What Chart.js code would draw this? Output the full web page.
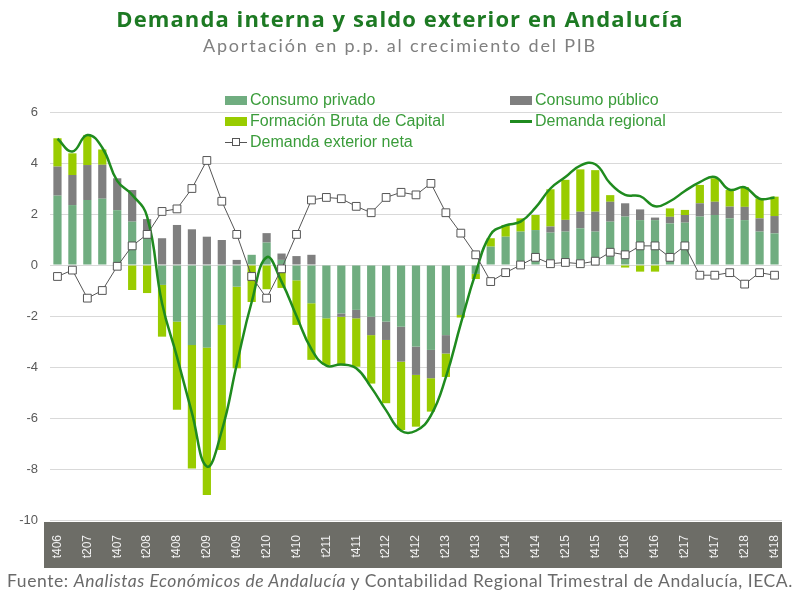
<!DOCTYPE html>
<html>
<head>
<meta charset="utf-8">
<script src="https://cdn.jsdelivr.net/npm/chart.js@4.4.1/dist/chart.umd.min.js"></script>
<style>
  body { margin: 0; background: #fff; }
  #wrap { position: relative; width: 800px; height: 597px; overflow: hidden; }
  #c { position: absolute; left: 0; top: 0; }
  .titulo { position: absolute; left: 0; width: 800px; text-align: center; white-space: nowrap; }
  #legend { position: absolute; left: 0; top: 0; font: 16px "Liberation Sans", Arial, sans-serif; color: #3a9c3a; }
  .item { position: absolute; white-space: nowrap; height: 20px; line-height: 20px; }
  .sw { position: absolute; left: 0; }
  .item span.txt { position: absolute; left: 25px; top: 0; }
</style>
</head>
<body>
<div id="wrap">
  <canvas id="c" width="800" height="597"></canvas>
  <div class="titulo" style="top:3px; font: bold 22px 'Open Sans', sans-serif; letter-spacing:1.1px; color:#1d7a23;">Demanda interna y saldo exterior en Andalucía</div>
  <div class="titulo" style="top:34px; font: 18px Lato, sans-serif; letter-spacing:1.8px; color:#808080;">Aportación en p.p. al crecimiento del PIB</div>
  <div class="titulo" style="top:570px; font: 17.5px Lato, sans-serif; letter-spacing:0.55px; color:#6a6a6a;">Fuente: <i>Analistas Económicos de Andalucía</i> y Contabilidad Regional Trimestral de Andalucía, IECA.</div>
  <div id="legend"></div>
</div>
<script>
// trimestres (t + trimestre + año)
const quarters = ["t406","t107","t207","t307","t407","t108","t208","t308","t408","t109",
  "t209","t309","t409","t110","t210","t310","t410","t111","t211","t311",
  "t411","t112","t212","t312","t412","t113","t213","t313","t413","t114",
  "t214","t314","t414","t115","t215","t315","t415","t116","t216","t316",
  "t416","t117","t217","t317","t417","t118","t218","t318","t418"];

const consumoPrivado = [2.72, 2.35, 2.55, 2.6, 2.15, 1.7, 1.15, -0.78, -2.22, -3.14,
  -3.24, -2.35, -0.85, 0.4, 0.88, 0.2, -0.6, -1.5, -2.09, -1.9,
  -1.76, -2.03, -2.22, -2.42, -3.2, -3.33, -2.75, -1.96, -0.35, 0.72,
  1.11, 1.31, 1.37, 1.27, 1.31, 1.44, 1.31, 1.7, 1.9, 1.76,
  1.76, 1.63, 1.66, 1.9, 1.96, 1.83, 1.76, 1.31, 1.24];

const consumoPublico = [1.14, 1.18, 1.37, 1.33, 1.25, 1.24, 0.65, 1.05, 1.57, 1.4,
  1.11, 0.98, 0.2, 0, 0.37, 0.25, 0.35, 0.4, 0, -0.13,
  -0.33, -0.72, -0.72, -1.37, -1.11, -1.11, -0.72, 0, 0, 0,
  0, 0, 0, 0.24, 0.46, 0.65, 0.78, 0.78, 0.52, 0.42,
  0.1, 0.26, 0.3, 0.52, 0.52, 0.46, 0.52, 0.52, 0.68];

const formacionCapital = [1.11, 0.85, 1.18, 0.6, 0, -0.98, -1.1, -2.03, -3.46, -4.84,
  -5.78, -4.9, -3.2, -1.45, -0.95, -0.9, -1.75, -2.22, -1.83, -1.9,
  -1.9, -1.9, -2.48, -2.68, -2.03, -1.31, -0.92, -0.1, -0.2, 0.33,
  0.46, 0.52, 0.59, 1.46, 1.57, 1.66, 1.63, 0.26, -0.1, -0.26,
  -0.26, 0.33, 0.2, 0.72, 0.92, 0.65, 0.78, 0.78, 0.76];

const demandaRegional = [4.95, 4.45, 5.1, 4.6, 3.3, 2.0, 0.7, -1.5, -3.6, -5.8,
  -7.9, -6.5, -3.9, -1.0, 0.3, -0.5, -2.0, -3.3, -3.95, -3.9,
  -4.05, -4.8, -5.7, -6.5, -6.5, -5.9, -4.4, -2.3, -0.3, 1.2,
  1.55, 1.7, 1.95, 2.95, 3.35, 3.85, 3.8, 2.7, 2.35, 1.95,
  1.55, 2.2, 2.15, 3.25, 3.45, 2.95, 3.05, 2.6, 2.65];

const demandaExterior = [-0.45, -0.2, -1.3, -1.0, -0.05, 0.75, 1.2, 2.1, 2.2, 3.0,
  4.1, 2.5, 1.2, -0.45, -1.3, -0.15, 1.2, 2.55, 2.65, 2.6,
  2.3, 2.05, 2.65, 2.85, 2.75, 3.2, 2.05, 1.25, 0.4, -0.65,
  -0.3, 0.0, 0.3, 0.05, 0.1, 0.05, 0.15, 0.5, 0.4, 0.75,
  0.75, 0.3, 0.75, -0.4, -0.4, -0.3, -0.75, -0.3, -0.4];

const yTicks = [-10, -8, -6, -4, -2, 0, 2, 4, 6];

const verde = "#70ad80", gris = "#7f7f7f", amarillo = "#99cc00", verdeOscuro = "#1f8b1f";

// banda gris oscura del eje de categorias
const bandaEje = {
  id: "bandaEje",
  beforeDraw(chart) {
    const x = chart.scales.x;
    const ctx = chart.ctx;
    ctx.save();
    ctx.fillStyle = "#6d6d67";
    ctx.fillRect(x.left - 6, x.top + 2, x.right - x.left + 6, 46);
    ctx.restore();
  }
};

const chart = new Chart(document.getElementById("c"), {
  type: "bar",
  data: {
    labels: quarters,
    datasets: [
      { type: "line", label: "Demanda exterior neta", data: demandaExterior, order: 0,
        borderColor: "#555555", borderWidth: 1, tension: 0,
        pointStyle: "rect", pointRadius: 5.5, pointBackgroundColor: "#ffffff",
        pointBorderColor: "#555555", pointBorderWidth: 1 },
      { type: "line", label: "Demanda regional", data: demandaRegional, order: 1,
        borderColor: verdeOscuro, borderWidth: 2.5, tension: 0.45, pointRadius: 0 },
      { label: "Consumo privado", data: consumoPrivado, backgroundColor: verde, order: 2,
        stack: "d", barPercentage: 0.55, categoryPercentage: 1 },
      { label: "Consumo público", data: consumoPublico, backgroundColor: gris, order: 2,
        stack: "d", barPercentage: 0.55, categoryPercentage: 1 },
      { label: "Formación Bruta de Capital", data: formacionCapital, backgroundColor: amarillo, order: 2,
        stack: "d", barPercentage: 0.55, categoryPercentage: 1 }
    ]
  },
  options: {
    responsive: false,
    animation: false,
    layout: { padding: { left: 0, right: 18, top: 112, bottom: 29 } },
    plugins: { legend: { display: false }, tooltip: { enabled: false } },
    scales: {
      x: {
        stacked: true,
        grid: { display: false },
        border: { display: false },
        afterFit(scale) { scale.height = 48; },
        ticks: {
          autoSkip: false, maxRotation: 90, minRotation: 90, padding: 7,
          color: "#f2f2f2", font: { size: 12, family: "Liberation Sans" },
          callback: (v, i) => (i % 2 === 0 ? quarters[i] : "")
        }
      },
      y: {
        stacked: true,
        min: -10, max: 6,
        afterFit(scale) { scale.width = 50; },
        afterBuildTicks(scale) { scale.ticks = yTicks.map(v => ({ value: v })); },
        grid: { color: "#d9d9d9", drawTicks: false },
        border: { display: false },
        ticks: { padding: 12, color: "#595959", font: { size: 13, family: "Liberation Sans" } }
      }
    }
  },
  plugins: [bandaEje]
});

// leyenda en dos columnas
const legendPos = {
  "Consumo privado": [225, 90],
  "Consumo público": [510, 90],
  "Formación Bruta de Capital": [225, 111],
  "Demanda regional": [510, 111],
  "Demanda exterior neta": [225, 132]
};
const legend = document.getElementById("legend");
chart.data.datasets.forEach(ds => {
  const p = legendPos[ds.label];
  const el = document.createElement("div");
  el.className = "item";
  el.style.left = p[0] + "px";
  el.style.top = p[1] + "px";
  let sw = "";
  if (ds.type === "line" && ds.pointRadius) {
    sw = '<div class="sw" style="top:10px;width:22px;height:1px;background:#555"></div>' +
         '<div class="sw" style="left:7px;top:6px;width:8px;height:8px;border:1px solid #555;background:#fff;box-sizing:border-box"></div>';
  } else if (ds.type === "line") {
    sw = '<div class="sw" style="top:9px;width:22px;height:3px;background:' + ds.borderColor + '"></div>';
  } else {
    sw = '<div class="sw" style="top:6px;width:22px;height:9px;background:' + ds.backgroundColor + '"></div>';
  }
  el.innerHTML = sw + '<span class="txt">' + ds.label + '</span>';
  legend.appendChild(el);
});
</script>
</body>
</html>
